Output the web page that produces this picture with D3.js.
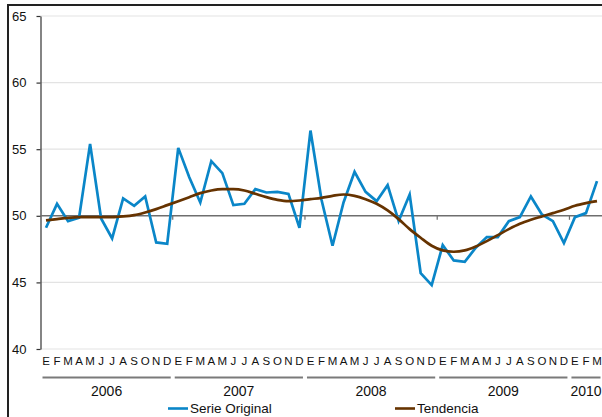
<!DOCTYPE html>
<html>
<head>
<meta charset="utf-8">
<script src="https://cdn.jsdelivr.net/npm/d3@7"></script>
<style>
  body { margin: 0; background: #fff; }
  svg { display: block; font-family: Arial, "Liberation Sans", sans-serif; }
</style>
</head>
<body>
<svg id="chart" width="602" height="417"></svg>
<script>
var monthLetters = ["E","F","M","A","M","J","J","A","S","O","N","D"];
var years = ["2006", "2007", "2008", "2009", "2010"];
var monthsPerYear = [12, 12, 12, 12, 3];

var serie = [
  49.1, 50.9, 49.6, 49.85, 55.4, 49.8, 48.3, 51.3, 50.75, 51.45, 48.0, 47.9,
  55.1, 52.9, 51.0, 54.1, 53.2, 50.8, 50.9, 52.0, 51.75, 51.8, 51.65, 49.1,
  56.4, 51.2, 47.75, 51.0, 53.3, 51.8, 51.1, 52.3, 49.6, 51.6, 45.7, 44.8,
  47.8, 46.65, 46.55, 47.6, 48.4, 48.4, 49.6, 49.9, 51.45, 50.1, 49.6, 47.95,
  49.9, 50.2, 52.6
];
var tendencia = [
  49.65, 49.75, 49.85, 49.9, 49.9, 49.9, 49.9, 49.95, 50.05, 50.25, 50.5, 50.8,
  51.1, 51.4, 51.7, 51.9, 52.0, 52.0, 51.9, 51.65, 51.4, 51.2, 51.1, 51.15,
  51.25, 51.35, 51.5, 51.6, 51.5, 51.25, 50.9, 50.4, 49.75, 49.0, 48.35, 47.75,
  47.4, 47.3, 47.4, 47.7, 48.1, 48.55, 49.0, 49.4, 49.7, 49.95, 50.2, 50.45,
  50.75, 50.95, 51.1
];
var yTicks = [40, 45, 50, 55, 60, 65];

var svg = d3.select("#chart"),
    plotLeft = 40.5, plotRight = 602.5, plotTop = 16, plotBottom = 349;

var x = d3.scaleBand()
    .domain(d3.range(serie.length))
    .range([plotLeft, plotRight])
    .padding(0);
var y = d3.scaleLinear().domain([40, 65]).range([plotBottom, plotTop]);
var cx = function (i) { return x(i) + x.bandwidth() / 2; };

// outer frame
svg.append("rect")
    .attr("x", 8).attr("y", 5)
    .attr("width", 700).attr("height", 500)
    .attr("fill", "none")
    .attr("stroke", "#222")
    .attr("stroke-width", 2);

// gridlines
svg.append("g").selectAll("line")
    .data(yTicks.filter(function (d) { return d != 50; }))
    .enter().append("line")
    .attr("x1", plotLeft).attr("x2", plotRight)
    .attr("y1", function (d) { return y(d); })
    .attr("y2", function (d) { return y(d); })
    .attr("stroke", "#e3e3e3")
    .attr("stroke-width", 1.2);

// y axis
var yAxis = svg.append("g")
    .attr("transform", "translate(" + plotLeft + ",0)")
    .call(d3.axisLeft(y).tickValues(yTicks).tickSize(4).tickSizeOuter(0).tickPadding(10));
yAxis.select(".domain").attr("stroke", "#333").attr("stroke-width", 1.2);
yAxis.selectAll(".tick line").attr("stroke", "#333").attr("stroke-width", 1.2);
yAxis.selectAll(".tick text")
    .attr("font-size", 13)
    .attr("fill", "#111")
    .attr("font-family", "Arial, 'Liberation Sans', sans-serif");

// base line at 50 with year ticks
svg.append("line")
    .attr("x1", plotLeft).attr("x2", plotRight)
    .attr("y1", y(50)).attr("y2", y(50))
    .attr("stroke", "#6e6e6e")
    .attr("stroke-width", 1.6);

var yearStarts = [];
var acc = 0;
monthsPerYear.forEach(function (n) { yearStarts.push(acc); acc += n; });

svg.append("g").selectAll("line")
    .data(yearStarts.slice(1))
    .enter().append("line")
    .attr("x1", function (d) { return x(d); })
    .attr("x2", function (d) { return x(d); })
    .attr("y1", y(50)).attr("y2", y(50) + 4)
    .attr("stroke", "#6e6e6e")
    .attr("stroke-width", 1.2);

// month labels
svg.append("g").selectAll("text")
    .data(serie)
    .enter().append("text")
    .attr("x", function (d, i) { return cx(i); })
    .attr("y", 365)
    .attr("text-anchor", "middle")
    .attr("font-size", 11.5)
    .attr("fill", "#111")
    .text(function (d, i) { return monthLetters[i % 12]; });

// year bars and labels
var yearG = svg.append("g").selectAll("g")
    .data(years)
    .enter().append("g");

yearG.append("line")
    .attr("x1", function (d, i) { return x(yearStarts[i]) + 2; })
    .attr("x2", function (d, i) { return x(yearStarts[i]) + monthsPerYear[i] * x.bandwidth() - 2; })
    .attr("y1", 377.5).attr("y2", 377.5)
    .attr("stroke", "#7a7a7a")
    .attr("stroke-width", 2);

yearG.append("text")
    .attr("x", function (d, i) { return x(yearStarts[i]) + monthsPerYear[i] * x.bandwidth() / 2; })
    .attr("y", 396)
    .attr("text-anchor", "middle")
    .attr("font-size", 14)
    .attr("fill", "#111")
    .text(function (d) { return d; });

// series lines
var line = d3.line()
    .x(function (d, i) { return cx(i); })
    .y(function (d) { return y(d); });

svg.append("path")
    .datum(serie)
    .attr("fill", "none")
    .attr("stroke", "#0A86C8")
    .attr("stroke-width", 2.7)
    .attr("stroke-linejoin", "miter")
    .attr("d", line);

svg.append("path")
    .datum(tendencia)
    .attr("fill", "none")
    .attr("stroke", "#663300")
    .attr("stroke-width", 2.7)
    .attr("d", line.curve(d3.curveMonotoneX));

// legend
var legend = [
  { name: "Serie Original", color: "#0A86C8", x: 168 },
  { name: "Tendencia", color: "#663300", x: 395 }
];
var lg = svg.append("g").selectAll("g")
    .data(legend)
    .enter().append("g");
lg.append("line")
    .attr("x1", function (d) { return d.x; })
    .attr("x2", function (d) { return d.x + 20; })
    .attr("y1", 408.5).attr("y2", 408.5)
    .attr("stroke", function (d) { return d.color; })
    .attr("stroke-width", 2.6);
lg.append("text")
    .attr("x", function (d) { return d.x + 22; })
    .attr("y", 413)
    .attr("font-size", 13.5)
    .attr("fill", "#111")
    .text(function (d) { return d.name; });
</script>
</body>
</html>
